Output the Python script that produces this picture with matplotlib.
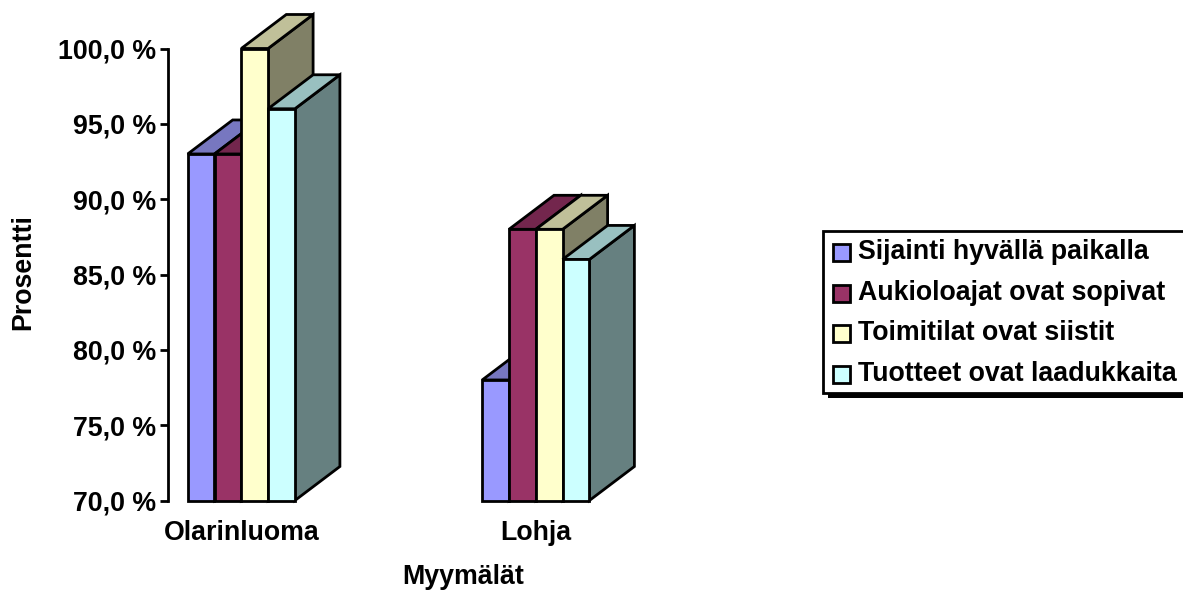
import matplotlib
matplotlib.use("Agg")
import matplotlib.pyplot as plt
from matplotlib.patches import Rectangle

plt.rcParams['font.family'] = ['Liberation Sans', 'DejaVu Sans']
plt.rcParams['font.weight'] = 'bold'

stores = ["Olarinluoma", "Lohja"]
series = ["Sijainti hyvällä paikalla", "Aukioloajat ovat sopivat",
          "Toimitilat ovat siistit", "Tuotteet ovat laadukkaita"]
location = [93, 78]
hours = [93, 88]
premises = [100, 88]
products = [96, 86]
yticks = [70, 75, 80, 85, 90, 95, 100]

front_colors = ["#9999FF", "#993366", "#FFFFCC", "#CCFFFF"]
top_colors = ["#7777C0", "#73264D", "#C0C099", "#99C0C0"]
side_colors = ["#5050A0", "#4D1A33", "#808066", "#668080"]

W, H = 1183, 591
LW = 2.0
FS = 19.3

fig = plt.figure(figsize=(W / 100, H / 100), dpi=100)

# axes box in pixels, y axis runs from 70 % to 100 %
left, right, top, bottom = 168, 640, 48.5, 500.5
ax = fig.add_axes([left / W, 1 - bottom / H, (right - left) / W, (bottom - top) / H])
ax.patch.set_visible(False)
px_per_x = 294.5
ax.set_xlim((left - 241.3) / px_per_x, (right - 241.3) / px_per_x)
ax.set_ylim(70, 100)

bar_w = 26.8 / px_per_x
depth_x = 45 / px_per_x
depth_y = 34 / ((bottom - top) / 30)

# fake 3D columns: side, top, then front, left to right so later ones overlap
for i, values in enumerate([location, hours, premises, products]):
    for j, v in enumerate(values):
        x0 = j + (i - 2) * bar_w
        x1 = x0 + bar_w
        ax.fill([x1, x1 + depth_x, x1 + depth_x, x1],
                [70, 70 + depth_y, v + depth_y, v],
                facecolor=side_colors[i], edgecolor="black", lw=LW,
                joinstyle="miter", clip_on=False, zorder=3)
        ax.fill([x0, x0 + depth_x, x1 + depth_x, x1],
                [v, v + depth_y, v + depth_y, v],
                facecolor=top_colors[i], edgecolor="black", lw=LW,
                joinstyle="miter", clip_on=False, zorder=3)
        ax.bar(x0, v - 70, bottom=70, width=bar_w, align="edge",
               facecolor=front_colors[i], edgecolor="black", lw=LW,
               clip_on=False, zorder=3)

for name in ["top", "right", "bottom"]:
    ax.spines[name].set_visible(False)
ax.spines["left"].set_linewidth(LW)

ax.set_yticks(yticks)
ax.set_yticklabels([f"{t:.1f} %".replace(".", ",") for t in yticks], fontsize=FS, fontweight="bold")
ax.tick_params(axis="y", length=5.8, width=LW, pad=3)
ax.set_xticks(range(len(stores)))
ax.set_xticklabels(stores, fontsize=FS, fontweight="bold")
ax.tick_params(axis="x", length=0, pad=14)

fig.text(23 / W, 1 - 272 / H, "Prosentti", rotation=90, ha="center", va="center",
         fontsize=FS, fontweight="bold")
fig.text(463 / W, 1 - 577 / H, "Myymälät", ha="center", va="center",
         fontsize=FS, fontweight="bold")

# legend box with a hard drop shadow, drawn in pixel coordinates
lg = fig.add_axes([0, 0, 1, 1], zorder=5)
lg.set_xlim(0, W)
lg.set_ylim(H, 0)
lg.axis("off")
lg.add_patch(Rectangle((828, 235), W - 828 + 5, 163, facecolor="black", edgecolor="none"))
lg.add_patch(Rectangle((823.5, 230.5), W - 823.5 + 5, 162.5, facecolor="white", edgecolor="black", lw=LW))
rows = [252, 293, 333, 374]
for name, color, y in zip(series, front_colors, rows):
    lg.add_patch(Rectangle((833, y - 8.5), 17, 17, facecolor=color, edgecolor="black", lw=LW))
    lg.text(858, y, name, va="center", ha="left", fontsize=FS, fontweight="bold")

fig.savefig("out.png", dpi=100)
